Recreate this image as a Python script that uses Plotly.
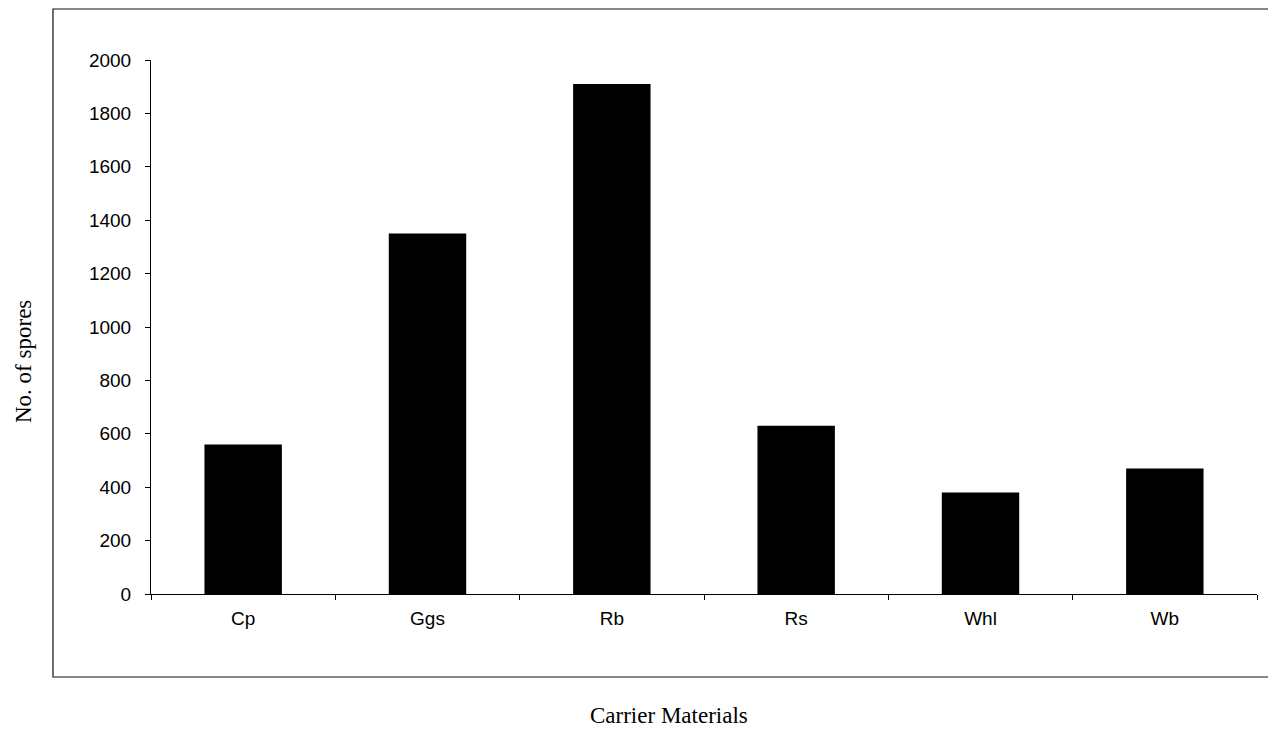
import plotly.graph_objects as go

# Spore counts per carrier material
materials = ["Cp", "Ggs", "Rb", "Rs", "Whl", "Wb"]
spores = [560, 1350, 1910, 630, 380, 470]
y_ticks = [0, 200, 400, 600, 800, 1000, 1200, 1400, 1600, 1800, 2000]

W, H = 1268, 731
L, R, T, B = 151, 11, 60, 137
PW, PH = W - L - R, H - T - B


def px(x):
    return (x - L) / PW


def py(y):
    return (H - B - y) / PH


fig = go.Figure(
    go.Bar(
        x=materials,
        y=spores,
        marker=dict(color="#000000", line=dict(width=0)),
    )
)

fig.update_layout(
    width=W,
    height=H,
    margin=dict(l=L, r=R, t=T, b=B),
    paper_bgcolor="white",
    plot_bgcolor="white",
    bargap=0.58,
    showlegend=False,
    font=dict(family="Liberation Sans, Arial, sans-serif", color="#000000"),
)

fig.update_xaxes(
    showgrid=False,
    showline=True,
    linecolor="#000000",
    linewidth=1,
    ticks="outside",
    ticklen=5,
    tickcolor="#000000",
    tickson="boundaries",
    tickfont=dict(size=19, family="Liberation Sans, Arial, sans-serif"),
    ticklabelstandoff=7,
)

fig.update_yaxes(
    range=[0, 2000],
    tickvals=y_ticks,
    ticktext=[str(v) for v in y_ticks],
    showgrid=False,
    zeroline=False,
    showline=True,
    linecolor="#000000",
    linewidth=1,
    ticks="outside",
    ticklen=5,
    tickcolor="#000000",
    tickfont=dict(size=19, family="Liberation Sans, Arial, sans-serif"),
    ticklabelstandoff=10,
)

# Outer chart frame (open on the right)
fig.add_shape(
    type="rect",
    xref="paper", yref="paper",
    x0=px(53), x1=px(1275), y0=py(677), y1=py(9),
    line=dict(color="#111111", width=1.2),
    fillcolor="rgba(0,0,0,0)",
    layer="below",
)

serif = "Liberation Serif, Times New Roman, serif"
fig.add_annotation(
    text="No. of spores",
    xref="paper", yref="paper",
    x=px(23), y=py(362),
    textangle=-90,
    showarrow=False,
    xanchor="center", yanchor="middle",
    font=dict(size=23, family=serif, color="#000000"),
)
fig.add_annotation(
    text="Carrier Materials",
    xref="paper", yref="paper",
    x=px(669), y=py(715),
    showarrow=False,
    xanchor="center", yanchor="middle",
    font=dict(size=23, family=serif, color="#000000"),
)

fig.write_html("out.html")
